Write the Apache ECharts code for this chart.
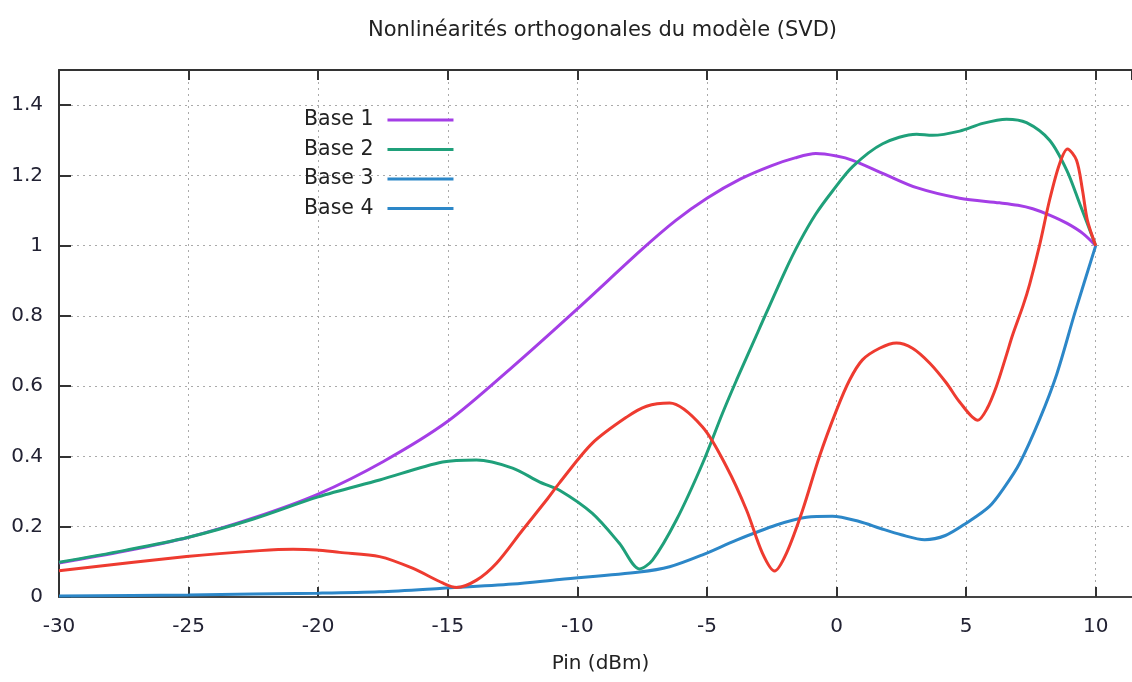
<!DOCTYPE html>
<html>
<head>
<meta charset="utf-8">
<title>Nonlinéarités orthogonales du modèle (SVD)</title>
<script src="https://cdn.jsdelivr.net/npm/echarts@6/dist/echarts.min.js"></script>
<style>
  html, body { margin: 0; padding: 0; background: #ffffff; }
  #chart { width: 1132px; height: 682px; }
</style>
</head>
<body>
<div id="chart"></div>
<script>
// Orthogonal nonlinear basis functions vs input power
const seriesNames = ['Base 1', 'Base 2', 'Base 3', 'Base 4'];
const xTicks = [-30, -25, -20, -15, -10, -5, 0, 5, 10];
const yTicks = [0, 0.2, 0.4, 0.6, 0.8, 1, 1.2, 1.4];

const base1X = [-30, -27.5, -25, -22.5, -20, -17.5, -15, -12.5, -10, -7.5, -6.2, -5, -3.7, -2.5, -1.6, -0.8, 0, 0.62, 1.78, 3.09, 4.75, 6.29, 7.0, 7.57, 8.22, 8.88, 9.5, 10];
const base1Y = [0.097, 0.13, 0.17, 0.225, 0.293, 0.385, 0.50, 0.655, 0.82, 0.99, 1.072, 1.135, 1.19, 1.228, 1.25, 1.262, 1.255, 1.243, 1.206, 1.165, 1.135, 1.122, 1.115, 1.105, 1.087, 1.064, 1.035, 1.0];

const base2X = [-30, -27.5, -25, -22.5, -20, -17.63, -15.2, -13.89, -12.5, -11.45, -10.69, -9.42, -8.38, -7.6, -7.1, -6.18, -5.17, -4.4, -3.86, -3, -2, -1.43, -0.8, -0.16, 0.62, 1.78, 3.09, 3.7, 4.75, 5.64, 6.56, 7.33, 8.22, 8.88, 9.38, 10];
const base2Y = [0.099, 0.132, 0.17, 0.222, 0.285, 0.333, 0.384, 0.39, 0.367, 0.327, 0.304, 0.238, 0.153, 0.08, 0.105, 0.219, 0.38, 0.523, 0.617, 0.76, 0.925, 1.01, 1.09, 1.155, 1.225, 1.29, 1.317, 1.314, 1.326, 1.348, 1.36, 1.35, 1.30, 1.215, 1.12, 1.0];

const base3X = [-30, -25.08, -22.25, -20.97, -20.07, -19.17, -17.63, -16.36, -15.2, -14.66, -13.89, -13.12, -12.12, -11.19, -10.69, -9.42, -8.1, -7.33, -6.44, -5.17, -4.24, -3.47, -2.86, -2.39, -1.93, -1.31, -0.66, 0, 0.5, 1.0, 1.66, 2.31, 2.93, 3.59, 4.24, 4.75, 5.45, 5.8, 6.17, 6.56, 6.79, 7.2, 7.45, 7.83, 8.22, 8.6, 8.91, 9.26, 9.49, 9.68, 10];
const base3Y = [0.075, 0.115, 0.132, 0.136, 0.134, 0.127, 0.115, 0.082, 0.04, 0.027, 0.048, 0.096, 0.19, 0.276, 0.325, 0.438, 0.512, 0.543, 0.552, 0.484, 0.37, 0.247, 0.125, 0.074, 0.125, 0.247, 0.40, 0.532, 0.617, 0.675, 0.708, 0.723, 0.708, 0.666, 0.609, 0.555, 0.503, 0.535, 0.60, 0.69, 0.745, 0.83, 0.89, 1.0, 1.13, 1.232, 1.275, 1.243, 1.158, 1.072, 1.0];

const base4X = [-30, -25, -20, -17.63, -15.2, -12.5, -10.69, -7.6, -6.44, -5.17, -3.86, -2.32, -1.16, -0.16, 0.88, 1.7, 2.5, 3.4, 4.2, 5, 5.9, 6.5, 7.06, 7.83, 8.5, 9.2, 10];
const base4Y = [0.003, 0.006, 0.011, 0.015, 0.025, 0.037, 0.05, 0.071, 0.086, 0.12, 0.162, 0.205, 0.227, 0.23, 0.215, 0.195, 0.177, 0.163, 0.175, 0.21, 0.258, 0.315, 0.38, 0.505, 0.635, 0.81, 1.0];

const lineColors = ['#a43ee6', '#1fa07a', '#ee3b30', '#2c87c8'];
const legendColors = ['#a43ee6', '#1fa07a', '#2c87c8', '#2c87c8'];

const FONT = 'DejaVu Sans';
const pairs = (xs, ys) => xs.map((x, i) => [x, ys[i]]);
const allData = [pairs(base1X, base1Y), pairs(base2X, base2Y), pairs(base3X, base3Y), pairs(base4X, base4Y)];
const zOrder = [2, 3, 4, 1];

const chart = echarts.init(document.getElementById('chart'), null, { renderer: 'canvas' });

const gridDots = { show: true, lineStyle: { color: '#aaaaaa', width: 1, type: [2, 4] } };

chart.setOption({
  animation: false,
  backgroundColor: '#ffffff',
  title: {
    text: 'Nonlinéarités orthogonales du modèle (SVD)',
    left: 363,
    top: 15,
    textStyle: { fontFamily: FONT, fontSize: 21, fontWeight: 'normal', color: '#222222' }
  },
  legend: {
    orient: 'vertical',
    left: 299,
    top: 104,
    align: 'right',
    icon: 'rect',
    itemWidth: 66,
    itemHeight: 3,
    itemGap: 7.5,
    textStyle: { fontFamily: FONT, fontSize: 20.5, lineHeight: 22, color: '#222222', padding: [0, 9, 0, 0] },
    data: seriesNames.map((n, i) => ({
      name: n,
      itemStyle: { color: legendColors[i] },
      lineStyle: { color: legendColors[i] }
    }))
  },
  grid: { left: 59, top: 70, width: 1073, height: 527, containLabel: false },
  xAxis: [{
    type: 'value',
    min: -30, max: 11.4, interval: 5,
    name: 'Pin (dBm)',
    nameLocation: 'middle',
    nameGap: 57,
    nameTextStyle: { fontFamily: FONT, fontSize: 20, color: '#222222', padding: [0, 0, 0, 10] },
    axisLine: { show: true, onZero: false, lineStyle: { color: '#444444', width: 2 } },
    axisTick: { show: true, inside: true, length: 10, lineStyle: { color: '#333333', width: 2 } },
    axisLabel: {
      fontFamily: FONT, fontSize: 20, color: '#222233', margin: 20,
      showMaxLabel: false,
      formatter: v => (xTicks.indexOf(v) >= 0 ? String(v) : '')
    },
    splitLine: gridDots
  }, {
    type: 'value',
    position: 'top',
    min: -30, max: 11.4, interval: 5,
    axisLine: { show: true, onZero: false, lineStyle: { color: '#333333', width: 2 } },
    axisTick: { show: true, inside: true, length: 10, lineStyle: { color: '#333333', width: 2 } },
    axisLabel: { show: false },
    splitLine: { show: false }
  }],
  yAxis: {
    type: 'value',
    min: 0, max: 1.5, interval: 0.2,
    axisLine: { show: true, onZero: false, lineStyle: { color: '#333333', width: 2 } },
    axisTick: { show: true, inside: true, length: 12, lineStyle: { color: '#333333', width: 2 } },
    axisLabel: {
      fontFamily: FONT, fontSize: 20, color: '#222233', margin: 16,
      showMaxLabel: false,
      formatter: v => {
        const r = Math.round(v * 10) / 10;
        return yTicks.indexOf(r) >= 0 ? String(r) : '';
      }
    },
    splitLine: gridDots
  },
  series: seriesNames.map((n, i) => ({
    name: n,
    type: 'line',
    xAxisIndex: 0,
    data: allData[i],
    smooth: 0.3,
    symbol: 'none',
    showSymbol: false,
    z: zOrder[i],
    lineStyle: { color: lineColors[i], width: 3 },
    itemStyle: { color: lineColors[i] }
  }))
});
</script>
</body>
</html>
